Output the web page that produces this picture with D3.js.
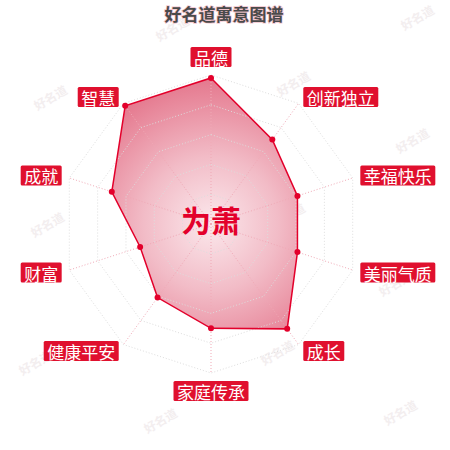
<!DOCTYPE html>
<html>
<head>
<meta charset="utf-8">
<script src="https://cdn.jsdelivr.net/npm/d3@7"></script>
<style>
  html, body { margin: 0; padding: 0; background: #fff; }
  #radar { width: 450px; height: 450px; }
  text { font-family: "Noto Sans CJK SC", "Noto Sans", sans-serif; }
</style>
</head>
<body>
<div id="radar"></div>
<script>
  // data
  var indicators = ['品德', '创新独立', '幸福快乐', '美丽气质', '成长', '家庭传承', '健康平安', '财富', '成就', '智慧'];
  var values = [98, 70, 61, 61, 87, 70, 61, 50, 70, 98];
  var maxValue = 100;
  var levels = [20, 40, 60, 80, 100];
  var titleText = '好名道寓意图谱';
  var nameText = '为萧';
  var watermarks = [[172, 28], [417, 17], [50, 97], [293, 83], [412, 140], [47, 224], [288, 215],
                    [395, 283], [35, 362], [277, 352], [160, 420], [400, 412]];

  var width = 450, height = 450,
      cx = 211, cy = 224, radius = 149,
      red = '#e0102e';

  var svg = d3.select('#radar').append('svg')
      .attr('width', width)
      .attr('height', height);

  var r = d3.scaleLinear().domain([0, maxValue]).range([0, radius]);
  var angle = d3.scaleLinear().domain([0, indicators.length]).range([0, 2 * Math.PI]);

  function px(i, v) { return cx + r(v) * Math.sin(angle(i)); }
  function py(i, v) { return cy - r(v) * Math.cos(angle(i)); }

  var defs = svg.append('defs');
  var grad = defs.append('radialGradient')
      .attr('id', 'fillGrad')
      .attr('gradientUnits', 'userSpaceOnUse')
      .attr('cx', cx).attr('cy', cy).attr('r', radius);
  grad.append('stop').attr('offset', '0%').attr('stop-color', '#fbe8ec');
  grad.append('stop').attr('offset', '45%').attr('stop-color', '#f2bcc7');
  grad.append('stop').attr('offset', '100%').attr('stop-color', '#e4758b');

  // watermarks
  svg.append('g').selectAll('text')
      .data(watermarks)
    .enter().append('text')
      .attr('transform', function(d) { return 'translate(' + d[0] + ',' + d[1] + ')rotate(-30)'; })
      .attr('text-anchor', 'middle')
      .attr('dominant-baseline', 'central')
      .style('font-size', '12px')
      .style('font-weight', 'bold')
      .style('fill', '#f3eeef')
      .text('好名道');

  // title
  svg.append('text')
      .attr('x', 224).attr('y', 13)
      .attr('text-anchor', 'middle')
      .attr('dominant-baseline', 'central')
      .style('font-size', '17px')
      .style('font-weight', 'bold')
      .style('fill', '#4a4a4a')
      .style('paint-order', 'stroke')
      .style('stroke', '#f4c6cf')
      .style('stroke-width', '1.5px')
      .text(titleText);

  // grid polygons
  var grid = svg.append('g');
  grid.selectAll('polygon')
      .data(levels)
    .enter().append('polygon')
      .attr('points', function(lv) {
        return indicators.map(function(d, i) { return px(i, lv) + ',' + py(i, lv); }).join(' ');
      })
      .attr('fill', 'none')
      .attr('stroke', '#ddd')
      .attr('stroke-width', 1)
      .attr('stroke-dasharray', '1,2');

  // data area
  var line = d3.line()
      .x(function(d, i) { return px(i, d); })
      .y(function(d, i) { return py(i, d); })
      .curve(d3.curveLinearClosed);

  svg.append('path')
      .datum(values)
      .attr('d', line)
      .attr('fill', 'url(#fillGrad)')
      .attr('stroke', 'none');

  // axis lines
  grid.selectAll('line')
      .data(indicators)
    .enter().append('line')
      .attr('x1', cx).attr('y1', cy)
      .attr('x2', function(d, i) { return px(i, maxValue); })
      .attr('y2', function(d, i) { return py(i, maxValue); })
      .attr('stroke', '#f0a9b6')
      .attr('stroke-width', 1)
      .attr('stroke-dasharray', '1,2');
  grid.raise();

  svg.append('path')
      .datum(values)
      .attr('d', line)
      .attr('fill', 'none')
      .attr('stroke', '#e3002b')
      .attr('stroke-width', 1.5);

  svg.append('g').selectAll('circle')
      .data(values)
    .enter().append('circle')
      .attr('cx', function(d, i) { return px(i, d); })
      .attr('cy', function(d, i) { return py(i, d); })
      .attr('r', 3)
      .attr('fill', '#e3002b');

  // center name
  svg.append('text')
      .attr('x', cx).attr('y', 219)
      .attr('text-anchor', 'middle')
      .attr('dominant-baseline', 'central')
      .style('font-size', '30px')
      .style('font-weight', 'bold')
      .style('fill', '#e3002b')
      .text(nameText);

  // indicator labels in red boxes
  var gap = 8, fs = 17, padX = 3.5, boxH = 20;
  var labels = svg.append('g').selectAll('g')
      .data(indicators)
    .enter().append('g');

  labels.each(function(d, i) {
    var g = d3.select(this),
        lx = px(i, maxValue) + gap * Math.sin(angle(i)),
        ly = py(i, maxValue) - gap * Math.cos(angle(i)),
        dx = lx - cx, dy = ly - cy,
        w = d.length * fs + 2 * padX,
        x0, y0;
    if (Math.abs(dx) < 1) x0 = lx - w / 2;
    else x0 = dx > 0 ? lx : lx - w;
    if (Math.abs(dx) < 1) y0 = dy < 0 ? ly - boxH : ly;
    else y0 = ly - boxH / 2;
    g.append('rect')
        .attr('x', x0).attr('y', y0)
        .attr('width', w).attr('height', boxH)
        .attr('rx', 1.5)
        .attr('fill', red);
    g.append('text')
        .attr('x', x0 + w / 2).attr('y', y0 + boxH / 2 + 0.5)
        .attr('text-anchor', 'middle')
        .attr('dominant-baseline', 'central')
        .style('font-size', fs + 'px')
        .style('fill', '#fff')
        .text(d);
  });
</script>
</body>
</html>
